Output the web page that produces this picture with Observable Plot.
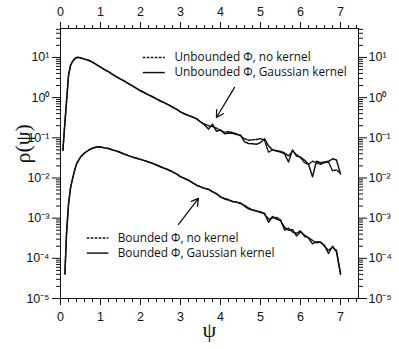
<!DOCTYPE html>
<html>
<head>
<meta charset="utf-8">
<script src="https://cdn.jsdelivr.net/npm/d3@7"></script>
<script src="https://cdn.jsdelivr.net/npm/@observablehq/plot@0.6"></script>
<style>
  html, body { margin: 0; padding: 0; background: #fff; }
</style>
</head>
<body>
<div id="chart"></div>
<script>
// ---------- data ----------
const psiUpper = [0.06, 0.1, 0.15, 0.2, 0.25, 0.3, 0.35, 0.4, 0.45, 0.5,
  0.6, 0.7, 0.8, 0.9, 1.0, 1.1, 1.2, 1.3, 1.4, 1.5, 1.6, 1.7, 1.8, 1.9, 2.0,
  2.1, 2.2, 2.3, 2.4, 2.5, 2.6, 2.7, 2.8, 2.9, 3.0, 3.1, 3.2, 3.3, 3.4, 3.5,
  3.6, 3.7, 3.8, 3.9, 4.0, 4.1, 4.2, 4.3, 4.4, 4.5, 4.6, 4.7, 4.8, 4.9, 5.0,
  5.1, 5.2, 5.3, 5.4, 5.5, 5.6, 5.7, 5.8, 5.9, 6.0, 6.1, 6.2, 6.3, 6.4, 6.5,
  6.6, 6.7, 6.8, 6.9, 7.0];

const rhoUnboundedNoKernel = [0.048, 0.17, 0.78, 3.5, 6.3, 7.9, 9.1, 10, 10, 9.8,
  9.1, 8.5, 7.6, 6.6, 5.75, 5.0, 4.4, 3.8, 3.3, 2.9, 2.57, 2.24, 1.95, 1.70, 1.48,
  1.32, 1.17, 1.05, 0.93, 0.83, 0.75, 0.66, 0.59, 0.52, 0.44, 0.40, 0.36, 0.33, 0.30, 0.25,
  0.219, 0.200, 0.191, 0.174, 0.151, 0.138, 0.141, 0.135, 0.126, 0.112,
  0.095, 0.087, 0.089, 0.091, 0.095, 0.087, 0.044, 0.050, 0.048, 0.046,
  0.042, 0.035, 0.047, 0.038, 0.032, 0.024, 0.022, 0.026, 0.024, 0.022,
  0.024, 0.025, 0.0151, 0.0158, 0.0132];

const rhoUnboundedGaussian = [0.050, 0.178, 0.79, 3.55, 6.3, 7.9, 9.1, 10, 10, 9.8,
  9.1, 8.5, 7.6, 6.6, 5.75, 5.0, 4.4, 3.8, 3.3, 2.9, 2.57, 2.24, 1.95, 1.70, 1.48,
  1.32, 1.17, 1.05, 0.93, 0.81, 0.74, 0.66, 0.575, 0.51, 0.44, 0.39, 0.355, 0.33, 0.295, 0.25,
  0.209, 0.166, 0.219, 0.145, 0.158, 0.126, 0.132, 0.129, 0.120, 0.117,
  0.079, 0.072, 0.071, 0.069, 0.076, 0.095, 0.063, 0.050, 0.047, 0.044,
  0.040, 0.025, 0.050, 0.035, 0.033, 0.028, 0.022, 0.0107, 0.026, 0.024,
  0.025, 0.026, 0.030, 0.028, 0.0126];

const psiLower = [0.11, 0.15, 0.2, 0.25, 0.3, 0.35, 0.4,
  0.5, 0.6, 0.7, 0.8, 0.9, 1.0, 1.1, 1.2, 1.3, 1.4, 1.5, 1.6, 1.7, 1.8, 1.9, 2.0,
  2.1, 2.2, 2.3, 2.4, 2.5, 2.6, 2.7, 2.8, 2.9, 3.0, 3.1, 3.2, 3.3, 3.4, 3.5,
  3.6, 3.7, 3.8, 3.9, 4.0, 4.1, 4.2, 4.3, 4.4, 4.5, 4.6, 4.7, 4.8, 4.9, 5.0,
  5.1, 5.2, 5.3, 5.4, 5.5, 5.6, 5.7, 5.8, 5.9, 6.0, 6.1, 6.2, 6.3, 6.4, 6.5,
  6.6, 6.7, 6.8, 6.9, 7.0];

const rhoBoundedNoKernel = [4.0e-5, 4.0e-4, 2.2e-3, 5.6e-3, 9.5e-3, 0.0151, 0.0224,
  0.0331, 0.0417, 0.049, 0.055, 0.059, 0.059, 0.056, 0.054, 0.050, 0.047, 0.043, 0.039, 0.036, 0.033, 0.031, 0.029,
  0.027, 0.025, 0.023, 0.021, 0.019, 0.0174, 0.0160, 0.0143, 0.0126, 0.0108, 0.0097, 0.0088, 0.0077, 0.0066, 0.0061,
  0.0055, 0.0053, 0.0046, 0.0041, 0.0034, 0.0031, 0.0029, 0.0026, 0.0025, 0.0023, 0.0021, 0.0018, 0.0016, 0.0015, 1.45e-3,
  1.26e-3, 9.5e-4, 1.0e-3, 1.05e-3, 9.1e-4, 5.0e-4, 5.6e-4, 4.5e-4, 4.2e-4, 4.8e-4, 3.5e-4, 3.3e-4, 2.8e-4, 2.4e-4, 2.6e-4,
  2.0e-4, 1.58e-4, 1.9e-4, 1.58e-4, 4.0e-5];

const rhoBoundedGaussian = [4.2e-5, 4.0e-4, 2.24e-3, 5.6e-3, 9.5e-3, 0.0151, 0.0224,
  0.0331, 0.0417, 0.049, 0.055, 0.059, 0.059, 0.056, 0.054, 0.050, 0.047, 0.043, 0.039, 0.036, 0.033, 0.031, 0.029,
  0.027, 0.025, 0.023, 0.021, 0.019, 0.0174, 0.0158, 0.0141, 0.0126, 0.0107, 0.0098, 0.0087, 0.0076, 0.0066, 0.0060,
  0.0055, 0.0052, 0.0045, 0.0040, 0.0034, 0.0030, 0.0028, 0.0026, 0.0025, 0.0024, 0.0020, 0.0017, 0.0016, 0.0015, 1.38e-3,
  1.32e-3, 7.9e-4, 1.10e-3, 9.5e-4, 8.7e-4, 6.0e-4, 5.0e-4, 5.2e-4, 3.6e-4, 4.6e-4, 3.8e-4, 3.2e-4, 2.3e-4, 2.6e-4, 2.5e-4,
  2.1e-4, 1.32e-4, 2.0e-4, 1.45e-4, 4.2e-5];

const xTickLabels = [0, 1, 2, 3, 4, 5, 6, 7];
const yTickValues = [1e-5, 1e-4, 1e-3, 1e-2, 1e-1, 1, 10];
const legendUpper = ["Unbounded \u03A6, no kernel", "Unbounded \u03A6, Gaussian kernel"];
const legendLower = ["Bounded \u03A6, no kernel", "Bounded \u03A6, Gaussian kernel"];
const xTitle = "\u03C8";
const yTitle = "\u03C1(\u03C8)";

// ---------- helpers ----------
const series = (xs, ys) => xs.map((x, i) => ({x, y: ys[i]}));
const sup = {"-": "\u207B", "0": "\u2070", "1": "\u00B9", "2": "\u00B2", "3": "\u00B3", "4": "\u2074", "5": "\u2075", "6": "\u2076", "7": "\u2077", "8": "\u2078", "9": "\u2079"};
const fmtPow = d => "10" + String(Math.round(Math.log10(d))).split("").map(c => sup[c]).join("");

const xMinor = d3.range(1, 38).map(i => i * 0.2).filter(v => Math.abs(v - Math.round(v)) > 1e-6);
const yMinor = [];
for (let e = -5; e <= 1; e++) for (let m = 2; m <= 9; m++) { const v = m * 10 ** e; if (v < 52) yMinor.push(v); }

const ink = "#111";
const lw = 1.45;
const dash = "2.6,1.4";
const legendFont = "Open Sans, Lato, sans-serif";

const chart = Plot.plot({
  width: 399,
  height: 349,
  marginLeft: 60,
  marginRight: 41,
  marginTop: 28,
  marginBottom: 51,
  style: {fontFamily: "Liberation Sans, Arial, sans-serif", fontSize: "12px", color: ink, background: "#fff"},
  x: {domain: [0, 7.45], label: null},
  y: {type: "log", domain: [1e-5, 52.5], label: null},
  marks: [
    Plot.frame({stroke: ink, strokeWidth: 1}),
    // x axes
    Plot.axisX({anchor: "bottom", ticks: xTickLabels, tickSize: 7, tickPadding: 7, fontSize: 12.5, label: null, tickFormat: d => String(d)}),
    Plot.axisX({anchor: "top", ticks: xTickLabels, tickSize: 7, tickPadding: 6, fontSize: 12.5, label: null, tickFormat: d => String(d)}),
    Plot.axisX({anchor: "bottom", ticks: xMinor, tickSize: 4, label: null, tickFormat: () => ""}),
    Plot.axisX({anchor: "top", ticks: xMinor, tickSize: 4, label: null, tickFormat: () => ""}),
    // y axes
    Plot.axisY({anchor: "left", ticks: yTickValues, tickSize: 8, tickPadding: 3, fontSize: 12.5, label: null, tickFormat: fmtPow}),
    Plot.axisY({anchor: "right", ticks: yTickValues, tickSize: 8, tickPadding: 2, fontSize: 12.5, label: null, tickFormat: fmtPow}),
    Plot.axisY({anchor: "left", ticks: yMinor, tickSize: 4, label: null, tickFormat: () => ""}),
    Plot.axisY({anchor: "right", ticks: yMinor, tickSize: 4, label: null, tickFormat: () => ""}),
    // data lines
    Plot.line(series(psiUpper, rhoUnboundedGaussian), {x: "x", y: "y", stroke: ink, strokeWidth: lw}),
    Plot.line(series(psiUpper, rhoUnboundedNoKernel), {x: "x", y: "y", stroke: ink, strokeWidth: lw, strokeDasharray: dash}),
    Plot.line(series(psiLower, rhoBoundedGaussian), {x: "x", y: "y", stroke: ink, strokeWidth: lw}),
    Plot.line(series(psiLower, rhoBoundedNoKernel), {x: "x", y: "y", stroke: ink, strokeWidth: lw, strokeDasharray: dash}),
    // arrows (annotation pointers, in data space)
    Plot.arrow([{x1: 4.35, y1: 1.8, x2: 3.9, y2: 0.32}], {x1: "x1", y1: "y1", x2: "x2", y2: "y2", stroke: ink, strokeWidth: 1.3, headLength: 9}),
    Plot.arrow([{x1: 2.95, y1: 7.0e-4, x2: 3.45, y2: 3.1e-3}], {x1: "x1", y1: "y1", x2: "x2", y2: "y2", stroke: ink, strokeWidth: 1.3, headLength: 9}),
    // legends: line samples
    Plot.ruleY([10], {x1: 2.07, x2: 2.62, stroke: ink, strokeWidth: lw, strokeDasharray: dash}),
    Plot.ruleY([4.2], {x1: 2.07, x2: 2.62, stroke: ink, strokeWidth: lw}),
    Plot.ruleY([3.2e-4], {x1: 0.67, x2: 1.21, stroke: ink, strokeWidth: lw, strokeDasharray: dash}),
    Plot.ruleY([1.35e-4], {x1: 0.67, x2: 1.21, stroke: ink, strokeWidth: lw}),
    // legend text
    Plot.text(legendUpper, {x: 2.85, y: [10, 4.2], text: d => d, textAnchor: "start", fontSize: 11.8, fontFamily: legendFont, fill: ink}),
    Plot.text(legendLower, {x: 1.43, y: [3.2e-4, 1.35e-4], text: d => d, textAnchor: "start", fontSize: 11.8, fontFamily: legendFont, fill: ink}),
    // axis titles
    Plot.text([yTitle], {frameAnchor: "left", dx: -38, rotate: -90, text: d => d, fontSize: 22, fontFamily: "Liberation Serif, serif", fill: ink}),
    Plot.text([xTitle], {frameAnchor: "bottom", dy: 38, text: d => d, fontSize: 22, fontFamily: "Liberation Serif, serif", fill: ink})
  ]
});
document.getElementById("chart").appendChild(chart);
</script>
</body>
</html>
